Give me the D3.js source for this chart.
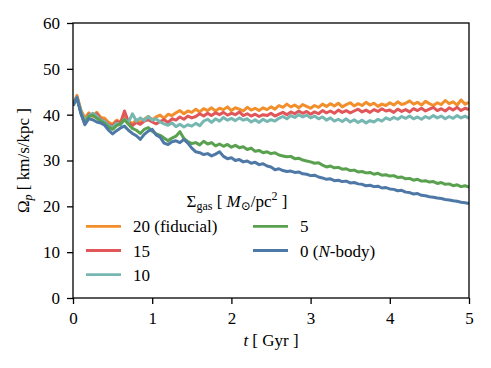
<!DOCTYPE html>
<html>
<head>
<meta charset="utf-8">
<script src="https://cdn.jsdelivr.net/npm/d3@7"></script>
<style>
body { margin: 0; background: #fff; }
</style>
</head>
<body>
<svg id="chart" width="491" height="368"></svg>
<script>
// time in Gyr, one sample every 0.05 Gyr
const tGyr = [0,0.05,0.1,0.15,0.2,0.25,0.3,0.35,0.4,0.45,0.5,0.55,0.6,0.65,0.7,0.75,0.8,0.85,0.9,0.95,
  1,1.05,1.1,1.15,1.2,1.25,1.3,1.35,1.4,1.45,1.5,1.55,1.6,1.65,1.7,1.75,1.8,1.85,1.9,1.95,
  2,2.05,2.1,2.15,2.2,2.25,2.3,2.35,2.4,2.45,2.5,2.55,2.6,2.65,2.7,2.75,2.8,2.85,2.9,2.95,
  3,3.05,3.1,3.15,3.2,3.25,3.3,3.35,3.4,3.45,3.5,3.55,3.6,3.65,3.7,3.75,3.8,3.85,3.9,3.95,
  4,4.05,4.1,4.15,4.2,4.25,4.3,4.35,4.4,4.45,4.5,4.55,4.6,4.65,4.7,4.75,4.8,4.85,4.9,4.95,5]

// pattern speed Omega_p [km/s/kpc] for each gas surface density
const omega20 = [42.3,44.2,41.0,39.3,40.4,39.6,40.5,39.4,39.2,38.3,37.9,38.8,38.4,39.6,38.7,38.0,38.9,38.3,39.0,39.6,
  38.9,39.5,39.9,39.2,40.1,39.8,40.4,40.9,40.2,40.8,40.5,41.2,40.6,41.3,40.9,41.5,40.8,41.4,41.1,41.7,
  40.9,41.5,41.2,40.8,41.6,41.0,41.4,40.9,41.5,41.1,41.7,41.2,42.0,41.6,42.3,41.7,42.1,41.5,42.2,41.8,
  41.4,42.0,41.6,42.3,41.8,42.4,41.9,42.5,41.7,42.2,42.6,41.9,42.4,42.0,42.7,42.1,42.5,41.8,42.3,42.0,
  42.6,42.1,42.8,42.2,42.5,43.0,42.3,42.7,42.1,42.9,42.4,42.0,42.6,42.2,43.1,42.4,42.8,42.1,43.2,42.3,42.7]
const omega15 = [42.0,43.9,40.6,38.0,40.1,39.9,40.2,39.0,38.6,37.9,37.5,38.5,38.2,40.8,38.4,37.6,38.3,37.9,38.6,38.9,
  38.4,38.0,38.5,38.9,38.3,39.1,38.8,39.5,39.0,39.7,39.3,39.6,40.2,39.7,40.3,39.8,40.4,40.0,40.5,39.9,
  40.3,40.0,40.6,39.8,40.2,39.7,40.1,39.6,40.0,39.8,40.3,39.7,40.1,40.5,40.0,40.6,40.2,40.8,40.3,40.7,
  40.1,40.6,40.2,40.9,40.4,40.8,40.3,41.0,40.5,40.9,40.4,40.8,41.2,40.6,41.0,40.5,41.1,40.7,41.3,40.8,
  41.0,40.5,41.2,40.7,41.1,40.6,41.3,40.9,41.4,40.8,41.2,41.6,40.9,41.3,40.8,41.5,41.0,41.6,40.9,41.4,41.1]
const omega10 = [42.1,43.8,40.8,38.6,39.8,40.3,39.7,38.8,38.5,37.6,37.2,38.1,37.8,39.0,38.3,40.2,38.6,39.3,38.7,39.6,
  38.8,39.1,38.4,38.0,37.7,38.2,37.4,37.9,37.3,37.8,37.5,38.1,37.6,38.6,39.0,38.3,39.1,38.6,39.4,38.8,
  39.2,38.7,39.3,38.8,39.1,38.4,38.9,38.3,39.0,38.5,38.9,38.6,39.2,39.6,39.1,39.8,39.4,40.0,39.5,39.9,
  39.3,39.7,39.1,39.5,38.8,39.3,38.6,39.0,38.5,39.1,38.4,38.9,38.3,38.8,38.2,38.7,38.4,39.0,38.6,39.3,
  38.9,39.4,39.0,39.6,39.2,39.7,39.1,39.5,39.0,39.6,39.2,39.8,39.3,39.7,39.1,39.6,39.2,39.8,39.3,39.7,39.2]
const omega5 = [42.0,43.6,40.4,38.2,39.6,39.9,39.2,38.6,38.1,37.3,36.8,37.6,38.0,38.9,37.9,37.0,36.6,35.9,36.8,37.2,
  36.4,35.8,35.5,34.9,34.3,34.9,35.3,36.3,34.8,34.1,33.7,33.9,33.4,34.2,33.6,33.9,33.2,33.6,33.1,33.5,
  32.9,33.3,32.8,33.0,32.4,32.7,32.0,32.2,31.7,31.9,31.5,31.7,31.2,31.0,30.8,30.9,30.4,30.5,30.1,29.9,
  29.7,29.4,29.5,29.0,28.6,28.8,28.4,28.5,28.1,28.2,27.8,27.9,27.5,27.6,27.3,27.4,27.0,27.2,26.8,26.9,
  26.6,26.7,26.3,26.4,26.0,26.1,25.7,25.9,25.5,25.6,25.3,25.4,25.0,25.2,24.8,24.9,24.5,24.7,24.3,24.5,24.2]
const omega0 = [42.0,43.7,40.2,37.8,39.1,38.9,38.4,38.2,37.7,36.6,35.8,36.5,37.1,37.5,36.6,35.9,35.4,34.6,35.7,36.4,
  36.8,35.6,35.1,33.8,33.5,34.1,34.3,33.9,34.6,33.8,32.7,31.9,31.7,31.3,31.5,31.0,31.4,31.9,30.9,30.4,
  30.6,30.0,30.2,29.7,29.9,29.4,29.6,29.1,29.3,28.8,28.6,28.0,28.2,27.8,27.6,27.7,27.4,27.5,27.1,27.0,
  26.7,26.8,26.4,26.2,25.9,26.0,25.6,25.7,25.4,25.5,25.1,25.2,24.9,24.8,24.5,24.6,24.3,24.4,24.0,24.1,
  23.8,23.7,23.4,23.5,23.1,23.0,22.7,22.8,22.4,22.3,22.1,22.0,21.8,21.7,21.5,21.4,21.2,21.1,20.9,20.8,20.6]

const seriesValues = [omega20, omega15, omega10, omega5, omega0]
const seriesColors = ['#f28e2b', '#e15759', '#76b7b2', '#59a14f', '#4e79a7']
const legendLabels = ['20 (fiducial)', '15', '10', '5', '0 (N-body)']
const xTicks = [0, 1, 2, 3, 4, 5]
const yTicks = [0, 10, 20, 30, 40, 50, 60]

const serif = '"Liberation Serif", "DejaVu Serif", serif'
const fontSize = 17

const svg = d3.select('#chart')
const margin = {top: 23, right: 22, bottom: 70, left: 73}
const W = +svg.attr('width'), H = +svg.attr('height')

const x = d3.scaleLinear().domain([0, 5]).range([margin.left, W - margin.right])
const y = d3.scaleLinear().domain([0, 60]).range([H - margin.bottom, margin.top])

svg.append('defs').append('clipPath').attr('id', 'clip')
  .append('rect')
  .attr('x', x(0)).attr('y', y(60))
  .attr('width', x(5) - x(0)).attr('height', y(0) - y(60))

// data lines, drawn in legend order so N-body ends on top
const line = d3.line().x((d, i) => x(tGyr[i])).y(d => y(d))
svg.append('g').attr('clip-path', 'url(#clip)')
  .selectAll('path')
  .data(seriesValues)
  .join('path')
  .attr('d', d => line(d))
  .attr('fill', 'none')
  .attr('stroke', (d, i) => seriesColors[i])
  .attr('stroke-width', 3)
  .attr('stroke-linejoin', 'round')

// axes
const xAxis = svg.append('g')
  .attr('transform', `translate(0,${y(0)})`)
  .call(d3.axisBottom(x).tickValues(xTicks).tickSize(6).tickPadding(8).tickFormat(d3.format('d')))
const yAxis = svg.append('g')
  .attr('transform', `translate(${x(0)},0)`)
  .call(d3.axisLeft(y).tickValues(yTicks).tickSize(6).tickPadding(7).tickFormat(d3.format('d')))
;[xAxis, yAxis].forEach(g => {
  g.attr('font-family', serif).attr('font-size', fontSize)
  g.select('.domain').remove()
  g.selectAll('line').attr('stroke', '#000').attr('stroke-width', 1.3)
  g.selectAll('text').attr('fill', '#000')
})

// frame
svg.append('rect')
  .attr('x', x(0)).attr('y', y(60))
  .attr('width', x(5) - x(0)).attr('height', y(0) - y(60))
  .attr('fill', 'none').attr('stroke', '#000').attr('stroke-width', 1.3)

// helper: text made of parts {t, it, sub, sup}, centred on cx by measuring it
function richText(parent, parts, cx, cy) {
  const el = parent.append('text')
    .attr('font-family', serif).attr('font-size', fontSize).attr('fill', '#000')
  parts.forEach(p => {
    const ts = el.append('tspan').text(p.t)
    if (p.it) ts.attr('font-style', 'italic')
    if (p.sub) ts.attr('font-size', 12).attr('baseline-shift', -3)
    if (p.sup) ts.attr('font-size', 12).attr('baseline-shift', 7)
  })
  const w = el.node().getComputedTextLength()
  el.attr('x', cx - w / 2).attr('y', cy)
  return el
}

// axis labels
richText(svg, [{t: 't', it: true}, {t: ' [ Gyr ]'}], (x(0) + x(5)) / 2, 346)
const ylab = svg.append('g')
  .attr('transform', `translate(29,${(y(0) + y(60)) / 2}) rotate(-90)`)
richText(ylab, [{t: 'Ω'}, {t: 'p', it: true, sub: true}, {t: ' [ km/s/kpc ]'}], 0, 0)

// legend
richText(svg, [{t: 'Σ'}, {t: 'gas', sub: true}, {t: ' [ '}, {t: 'M', it: true}, {t: '⊙', sub: true},
  {t: '/pc'}, {t: '2', sup: true}, {t: ' ]'}], 237, 207)

const legendCols = [86, 253]
const legendRows = [226.3, 250.5, 274.7]
const legendItems = seriesColors.map((c, i) => ({
  color: c,
  label: legendLabels[i],
  col: i < 3 ? 0 : 1,
  row: i < 3 ? i : i - 3
}))
const leg = svg.append('g').attr('font-size', fontSize).attr('font-family', serif)
leg.selectAll('line')
  .data(legendItems)
  .join('line')
  .attr('x1', d => legendCols[d.col]).attr('x2', d => legendCols[d.col] + 35)
  .attr('y1', d => legendRows[d.row]).attr('y2', d => legendRows[d.row])
  .attr('stroke', d => d.color).attr('stroke-width', 2.8)

leg.selectAll('text')
  .data(legendItems)
  .join('text')
  .attr('x', d => legendCols[d.col] + 47)
  .attr('y', d => legendRows[d.row] + 6)
  .each(function (d) {
    const t = d3.select(this)
    const parts = d.label.split('N')
    t.append('tspan').text(parts[0])
    if (parts.length > 1) {
      t.append('tspan').attr('font-style', 'italic').text('N')
      t.append('tspan').text(parts[1])
    }
  })
</script>
</body>
</html>
